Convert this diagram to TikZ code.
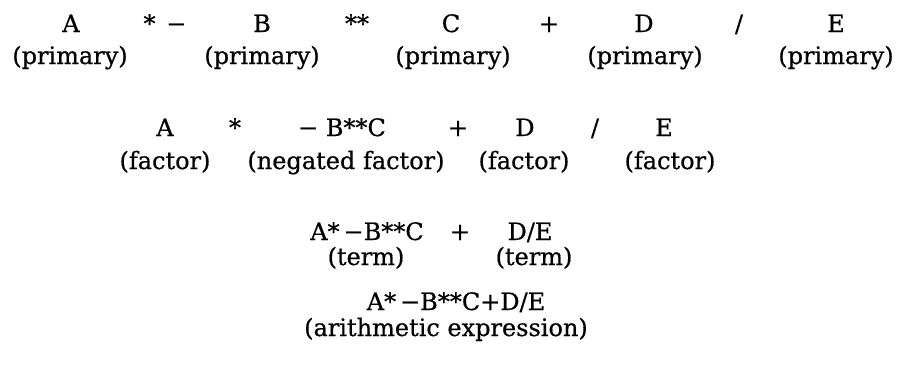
\documentclass[tikz,border=0pt]{standalone}
\usepackage{fontspec}
\setmainfont{DejaVu Serif}[FakeBold=0.6]
\begin{document}
\begin{tikzpicture}[
    x=1pt, y=-1pt,
    every node/.style={font=\fontsize{24}{28}\selectfont, anchor=base, inner sep=0pt},
    operand/.style={},
    oper/.style={},
    kind/.style={}
]
\useasboundingbox (0,0) rectangle (897,381);
% Analisi dell'espressione A*-B**C+D/E, livello per livello.
% livello 1: primary
\node[operand] (pA) at (71,32)  {A};
\node[oper]    (o1) at (165,32) {*\hspace{0.45em}−};
\node[operand] (pB) at (262,32) {B};
\node[oper]    (o2) at (357,32) {**};
\node[operand] (pC) at (451,32) {C};
\node[oper]    (o3) at (549,32) {+};
\node[operand] (pD) at (644,32) {D};
\node[oper]    (o4) at (739,32) {/};
\node[operand] (pE) at (836,32) {E};
\node[kind] (kA) at (70,64)  {(primary)};
\node[kind] (kB) at (262,64) {(primary)};
\node[kind] (kC) at (453,64) {(primary)};
\node[kind] (kD) at (645,64) {(primary)};
\node[kind] (kE) at (836,64) {(primary)};
% livello 2: factor
\node[operand] (fA) at (165,136) {A};
\node[oper]    (f1) at (235,136) {*};
\node[operand] (fB) at (342,136) {− B**C};
\node[oper]    (f2) at (458,136) {+};
\node[operand] (fD) at (525,136) {D};
\node[oper]    (f3) at (595,136) {/};
\node[operand] (fE) at (664,136) {E};
\node[kind] (gA) at (165,169) {(factor)};
\node[kind] (gB) at (346,169) {(negated factor)};
\node[kind] (gD) at (524,169) {(factor)};
\node[kind] (gE) at (670,169) {(factor)};
% livello 3: term
\node[operand] (tL) at (367,240) {A*\,−B**C};
\node[oper]    (t1) at (460,240) {+};
\node[operand] (tR) at (530,240) {D/E};
\node[kind] (uL) at (366,265) {(term)};
\node[kind] (uR) at (534,265) {(term)};
% livello 4: arithmetic expression
\node[operand] (ex) at (456,310) {A*\,−B**C+D/E};
\node[kind]    (ek) at (446,336) {(arithmetic expression)};
\end{tikzpicture}
\end{document}
